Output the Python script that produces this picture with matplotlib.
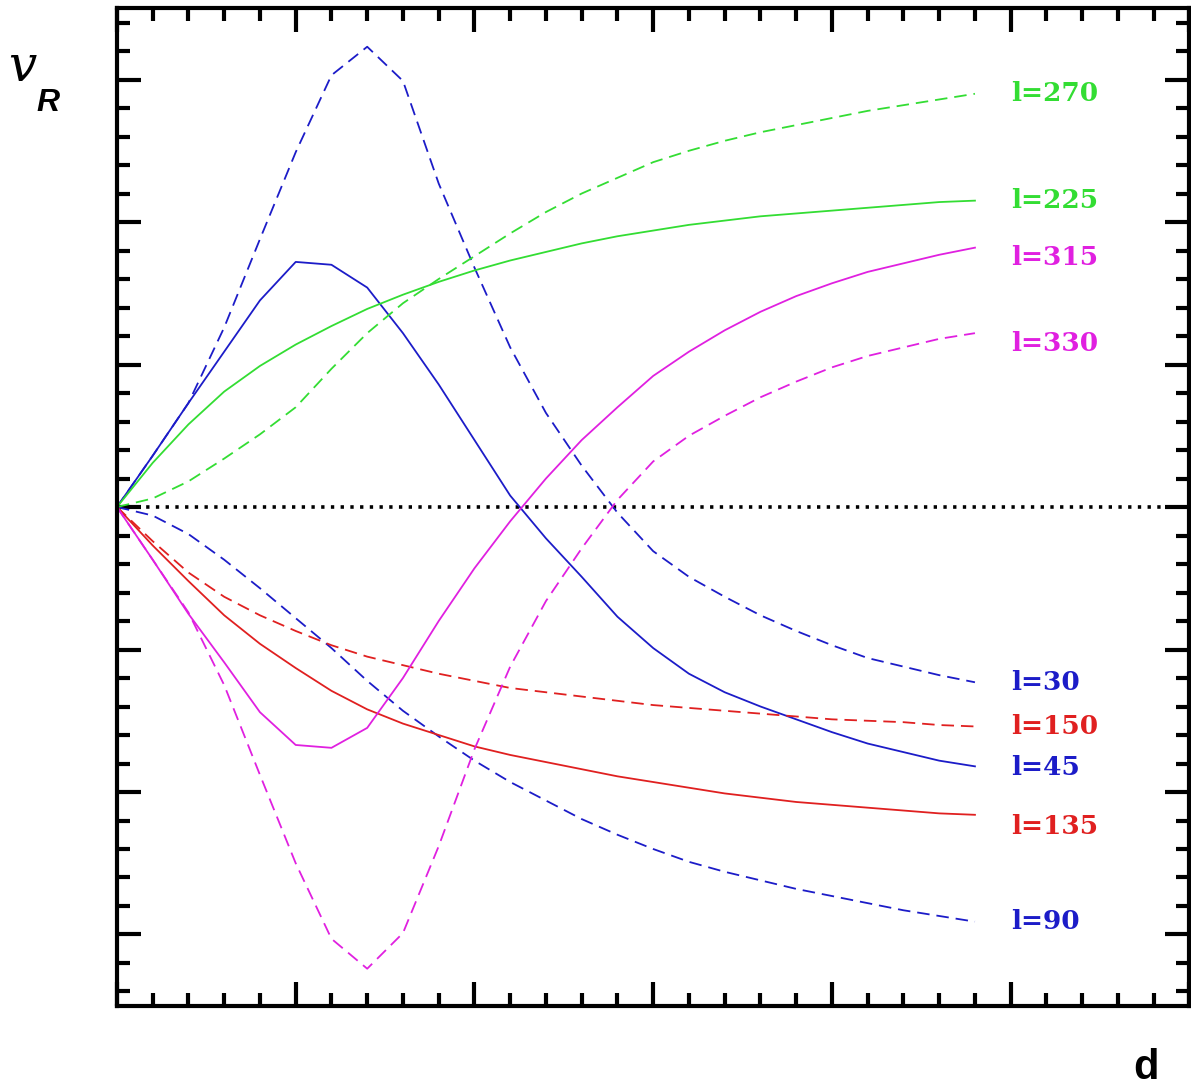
import numpy as np
import matplotlib
matplotlib.use("Agg")
import matplotlib.pyplot as plt
from matplotlib.ticker import MultipleLocator

plt.rcParams['lines.scale_dashes'] = False

# distance grid (one point per minor tick)
d = np.round(np.arange(0, 4.81, 0.2), 1)

# radial velocity curves
vr_l30 = [0, 0.36, 0.73, 1.26, 1.88, 2.49, 3.03, 3.23, 2.99, 2.27, 1.68, 1.12, 0.66,
          0.29, -0.04, -0.31, -0.49, -0.63, -0.76, -0.87, -0.97, -1.06, -1.12, -1.18, -1.23]
vr_l45 = [0, 0.36, 0.73, 1.09, 1.45, 1.72, 1.70, 1.54, 1.22, 0.86, 0.47, 0.08, -0.22,
          -0.49, -0.77, -0.99, -1.17, -1.30, -1.40, -1.49, -1.58, -1.66, -1.72, -1.78, -1.82]
vr_l90 = [0, -0.06, -0.19, -0.37, -0.57, -0.78, -0.99, -1.22, -1.43, -1.61, -1.78, -1.93, -2.06,
          -2.19, -2.30, -2.40, -2.49, -2.56, -2.62, -2.68, -2.73, -2.78, -2.83, -2.87, -2.91]
vr_l135 = [0, -0.27, -0.52, -0.76, -0.96, -1.13, -1.29, -1.42, -1.52, -1.60, -1.68, -1.74, -1.79,
           -1.84, -1.89, -1.93, -1.97, -2.01, -2.04, -2.07, -2.09, -2.11, -2.13, -2.15, -2.16]
vr_l150 = [0, -0.24, -0.46, -0.63, -0.76, -0.87, -0.97, -1.05, -1.11, -1.17, -1.22, -1.27, -1.30,
           -1.33, -1.36, -1.39, -1.41, -1.43, -1.45, -1.47, -1.49, -1.50, -1.51, -1.53, -1.54]
vr_l225 = [0, 0.31, 0.58, 0.81, 0.99, 1.14, 1.27, 1.39, 1.49, 1.58, 1.66, 1.73, 1.79,
           1.85, 1.90, 1.94, 1.98, 2.01, 2.04, 2.06, 2.08, 2.10, 2.12, 2.14, 2.15]
vr_l270 = [0, 0.06, 0.18, 0.34, 0.51, 0.70, 0.97, 1.22, 1.43, 1.60, 1.76, 1.92, 2.07,
           2.20, 2.31, 2.42, 2.50, 2.57, 2.63, 2.68, 2.73, 2.78, 2.82, 2.86, 2.90]
vr_l315 = [0, -0.37, -0.75, -1.09, -1.44, -1.67, -1.69, -1.55, -1.20, -0.80, -0.43, -0.10, 0.20,
           0.47, 0.70, 0.92, 1.09, 1.24, 1.37, 1.48, 1.57, 1.65, 1.71, 1.77, 1.82]
vr_l330 = [0, -0.37, -0.74, -1.25, -1.88, -2.50, -3.03, -3.24, -2.99, -2.38, -1.70, -1.12, -0.66,
           -0.29, 0.05, 0.32, 0.50, 0.64, 0.77, 0.88, 0.98, 1.06, 1.12, 1.18, 1.22]

labels = ["l=270", "l=225", "l=315", "l=330", "l=30", "l=150", "l=45", "l=135", "l=90"]
label_y = [2.90, 2.15, 1.75, 1.15, -1.23, -1.54, -1.83, -2.24, -2.91]

blue = '#1c1cc8'
green = '#33dd33'
magenta = '#e020e0'
red = '#e02020'
label_col = [green, green, magenta, magenta, blue, red, blue, red, blue]

dash = (0, (9, 5))

fig = plt.figure(figsize=(11.91, 10.88), dpi=100)
ax = fig.add_axes([0.0982, 0.0756, 0.9005, 0.9168])

# zero line
ax.axhline(0, color='black', lw=2.6, linestyle=(0, (2.4, 4.6)))

lw = 1.3
ax.plot(d, vr_l30, color=blue, lw=lw, linestyle=dash)
ax.plot(d, vr_l45, color=blue, lw=lw)
ax.plot(d, vr_l90, color=blue, lw=lw, linestyle=dash)
ax.plot(d, vr_l135, color=red, lw=lw)
ax.plot(d, vr_l150, color=red, lw=lw, linestyle=dash)
ax.plot(d, vr_l225, color=green, lw=lw)
ax.plot(d, vr_l270, color=green, lw=lw, linestyle=dash)
ax.plot(d, vr_l315, color=magenta, lw=lw)
ax.plot(d, vr_l330, color=magenta, lw=lw, linestyle=dash)

for t, y, c in zip(labels, label_y, label_col):
    ax.text(5.0, y, t, color=c, fontsize=19, fontweight='bold',
            family='DejaVu Serif', ha='left', va='center')

ax.set_xlim(0, 6)
ax.set_ylim(-3.5, 3.5)
ax.xaxis.set_major_locator(MultipleLocator(1))
ax.xaxis.set_minor_locator(MultipleLocator(0.2))
ax.yaxis.set_major_locator(MultipleLocator(1))
ax.yaxis.set_minor_locator(MultipleLocator(0.2))
ax.tick_params(which='both', direction='in', top=True, right=True,
               labelbottom=False, labelleft=False, width=3, color='black')
ax.tick_params(which='major', length=17)
ax.tick_params(which='minor', length=9.5)
for s in ax.spines.values():
    s.set_linewidth(3)

fig.text(0.007, 0.926, "v", fontsize=36, style='italic', family='DejaVu Serif',
         ha='left', va='baseline')
fig.text(0.031, 0.898, "R", fontsize=23, style='italic', fontweight='bold',
         family='Liberation Sans', ha='left', va='baseline')
fig.text(0.962, 0.008, "d", fontsize=30, fontweight='bold',
         family='Liberation Sans', ha='center', va='baseline')

fig.savefig('out.png', dpi=100)
